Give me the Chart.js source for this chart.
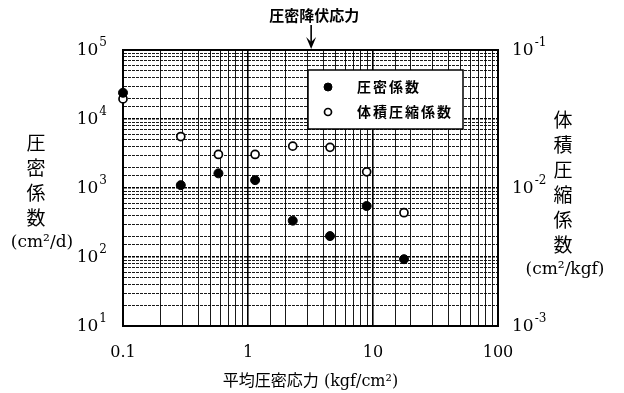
<!DOCTYPE html>
<html>
<head>
<meta charset="utf-8">
<script src="https://cdn.jsdelivr.net/npm/chart.js@4.4.1/dist/chart.umd.min.js"></script>
<style>
  html, body { margin: 0; padding: 0; background: #fff; }
  #wrap { width: 624px; height: 393px; }
</style>
</head>
<body>
<div id="wrap"><canvas id="consolChart"></canvas></div>
<script>
// 平均圧密応力 (kgf/cm2)
var stress = [0.1, 0.29, 0.58, 1.14, 2.28, 4.53, 8.9, 17.7];
// 圧密係数 (cm2/d)
var cv = [24000, 1100, 1630, 1300, 336, 201, 548, 93];
// 体積圧縮係数 (cm2/kgf)
var mv = [0.0442, 0.0236, 0.0175, 0.0175, 0.0201, 0.0197, 0.0131, 0.00662];

var xTicks = [0.1, 1, 10, 100];
var cvTicks = [10, 100, 1000, 10000, 100000];
var mvTicks = [0.001, 0.01, 0.1];
var yieldStress = 3.2;

var serif = '"DejaVu Serif", "Noto Sans CJK JP"';
var gothic = '"Noto Sans CJK JP"';

function isPow10(v) {
    var l = Math.log10(v);
    return Math.abs(l - Math.round(l)) < 1e-6;
}
function gridWidth(c) {
    return c.tick && isPow10(c.tick.value) ? 1.6 : 0.9;
}

// 10 with exponent, right or left aligned
function drawPow(ctx, x, y, v, align) {
    var sup = String(Math.round(Math.log10(v)));
    ctx.font = '17px ' + serif;
    var bw = ctx.measureText('10').width;
    ctx.font = '12px ' + serif;
    var sw = ctx.measureText(sup).width;
    var x0 = align === 'right' ? x - bw - sw - 1 : x;
    ctx.textAlign = 'left';
    ctx.textBaseline = 'middle';
    ctx.font = '17px ' + serif;
    ctx.fillText('10', x0, y + 1);
    ctx.font = '12px ' + serif;
    ctx.fillText(sup, x0 + bw + 1, y - 7);
}

function drawColumn(ctx, chars, unit, cx, y0, step, unitX) {
    ctx.textAlign = 'center';
    ctx.textBaseline = 'middle';
    ctx.font = '19px ' + gothic;
    for (var i = 0; i < chars.length; i++) {
        ctx.fillText(chars[i], cx, y0 + i * step);
    }
    ctx.font = '17px ' + serif;
    ctx.fillText(unit, unitX, y0 + chars.length * step);
}

var decor = {
    id: 'decor',
    beforeDatasetsDraw: function (chart) {
        var a = chart.chartArea, ctx = chart.ctx;
        ctx.save();
        ctx.strokeStyle = '#000';
        ctx.lineWidth = 2;
        ctx.beginPath();
        ctx.moveTo(a.left, a.top);
        ctx.lineTo(a.right, a.top);
        ctx.stroke();
        ctx.restore();
    },
    afterDraw: function (chart) {
        var ctx = chart.ctx, a = chart.chartArea;
        var yL = chart.scales.y, yR = chart.scales.y2, xs = chart.scales.x;
        ctx.save();
        ctx.fillStyle = '#000';

        cvTicks.forEach(function (v) { drawPow(ctx, a.left - 16, yL.getPixelForValue(v), v, 'right'); });
        mvTicks.forEach(function (v) { drawPow(ctx, a.right + 14, yR.getPixelForValue(v), v, 'left'); });

        drawColumn(ctx, ['圧', '密', '係', '数'], '(cm²/d)', 36, 143, 25, 42);
        drawColumn(ctx, ['体', '積', '圧', '縮', '係', '数'], '(cm²/kgf)', 563, 120, 25, 565);

        // legend box
        var bx = a.left + 185, by = a.top + 20, bw = 155, bh = 59;
        ctx.fillStyle = '#fff';
        ctx.fillRect(bx, by, bw, bh);
        ctx.strokeStyle = '#000';
        ctx.lineWidth = 1.5;
        ctx.strokeRect(bx, by, bw, bh);
        chart.data.datasets.forEach(function (ds, i) {
            var py = by + 17 + i * 25;
            ctx.beginPath();
            ctx.arc(bx + 20, py, ds.pointRadius - 0.5, 0, Math.PI * 2);
            ctx.fillStyle = ds.pointBackgroundColor;
            ctx.fill();
            ctx.lineWidth = ds.pointBorderWidth;
            ctx.strokeStyle = ds.pointBorderColor;
            ctx.stroke();
            ctx.fillStyle = '#000';
            ctx.font = 'bold 14px ' + gothic;
            ctx.letterSpacing = '2px';
            ctx.textAlign = 'left';
            ctx.textBaseline = 'middle';
            ctx.fillText(ds.label, bx + 49, py);
            ctx.letterSpacing = '0px';
        });

        // 圧密降伏応力 arrow
        var px = xs.getPixelForValue(yieldStress);
        ctx.fillStyle = '#000';
        ctx.font = 'bold 15px ' + gothic;
        ctx.textAlign = 'center';
        ctx.textBaseline = 'middle';
        ctx.fillText('圧密降伏応力', px + 3, 15);
        ctx.strokeStyle = '#000';
        ctx.lineWidth = 1.6;
        ctx.beginPath();
        ctx.moveTo(px, 25);
        ctx.lineTo(px, a.top - 4);
        ctx.stroke();
        ctx.beginPath();
        ctx.moveTo(px - 5, a.top - 13);
        ctx.lineTo(px, a.top - 1);
        ctx.lineTo(px + 5, a.top - 13);
        ctx.lineTo(px, a.top - 8);
        ctx.closePath();
        ctx.fill();
        ctx.restore();
    }
};

new Chart('consolChart', {
    type: 'scatter',
    data: {
        datasets: [
            {
                label: '圧密係数',
                data: stress.map(function (s, i) { return { x: s, y: cv[i] }; }),
                yAxisID: 'y',
                pointRadius: 4.5,
                pointHoverRadius: 4.5,
                pointBackgroundColor: '#000',
                pointBorderColor: '#000',
                pointBorderWidth: 1,
                clip: false
            },
            {
                label: '体積圧縮係数',
                data: stress.map(function (s, i) { return { x: s, y: mv[i] }; }),
                yAxisID: 'y2',
                pointRadius: 4,
                pointHoverRadius: 4,
                pointBackgroundColor: '#fff',
                pointBorderColor: '#000',
                pointBorderWidth: 1.7,
                clip: false
            }
        ]
    },
    options: {
        responsive: true,
        maintainAspectRatio: false,
        animation: false,
        layout: { padding: { top: 50, left: 0, right: 0, bottom: 0 } },
        scales: {
            x: {
                type: 'logarithmic',
                position: 'bottom',
                min: 0.1,
                max: 100,
                afterFit: function (s) { s.height = 67; },
                grid: { color: '#000', lineWidth: gridWidth, drawTicks: false },
                border: { color: '#000', width: 2 },
                ticks: {
                    autoSkip: false,
                    maxRotation: 0,
                    padding: 17,
                    color: '#000',
                    font: { family: serif, size: 16 },
                    callback: function (v) {
                        for (var i = 0; i < xTicks.length; i++) {
                            if (Math.abs(v / xTicks[i] - 1) < 1e-6) return String(xTicks[i]);
                        }
                        return '';
                    }
                },
                title: {
                    display: true,
                    text: '平均圧密応力 (kgf/cm²)',
                    color: '#000',
                    font: { family: serif, size: 16 },
                    padding: { top: 0, bottom: 2 }
                }
            },
            y: {
                type: 'logarithmic',
                position: 'left',
                min: 10,
                max: 100000,
                afterFit: function (s) { s.width = 123; },
                grid: { color: '#000', lineWidth: gridWidth, drawTicks: false },
                border: { color: '#000', width: 2, dash: [3, 1] },
                ticks: { display: false, autoSkip: false }
            },
            y2: {
                type: 'logarithmic',
                position: 'right',
                min: 0.001,
                max: 0.1,
                afterFit: function (s) { s.width = 126; },
                grid: { display: false },
                border: { color: '#000', width: 2 },
                ticks: { display: false }
            }
        },
        plugins: {
            legend: { display: false },
            tooltip: { enabled: false }
        }
    },
    plugins: [decor]
});
</script>
</body>
</html>
